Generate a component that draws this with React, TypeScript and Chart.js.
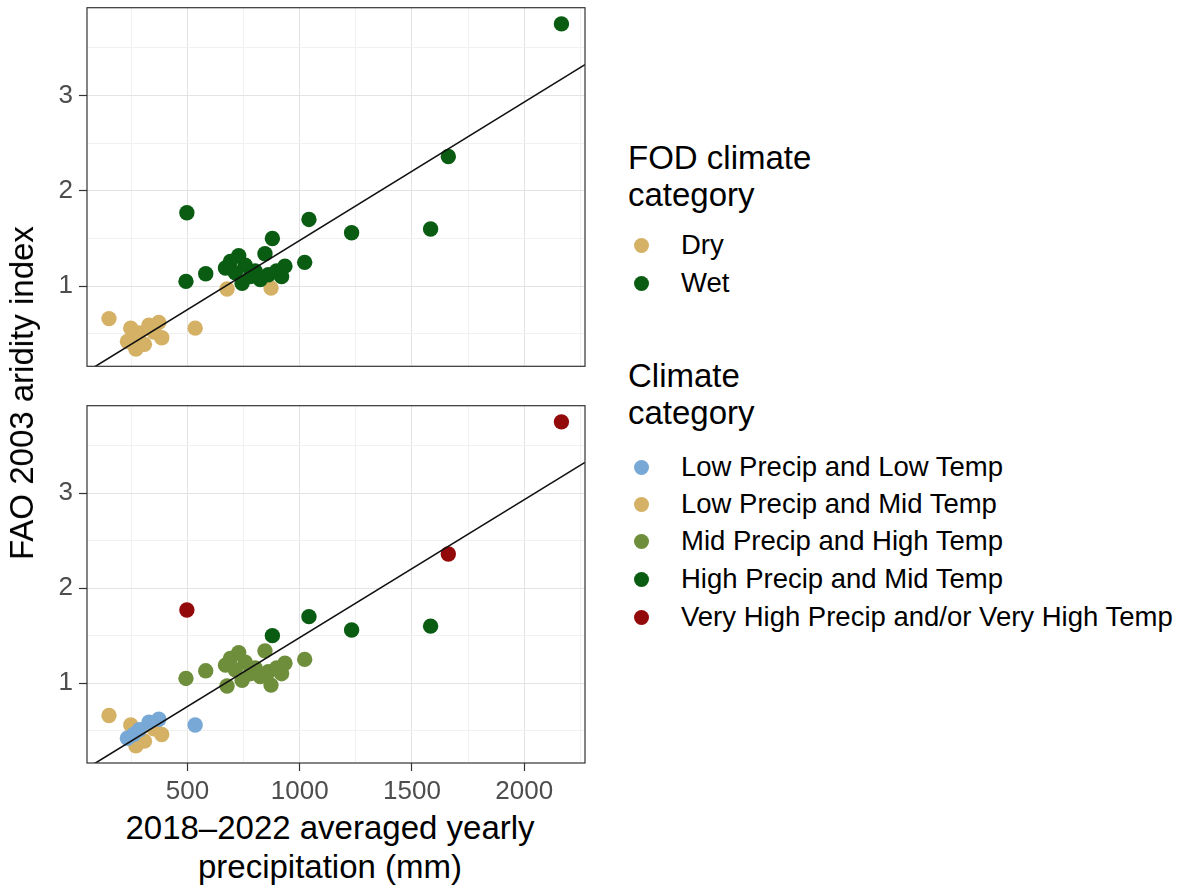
import React, { useEffect, useRef } from "react";
import { Chart, registerables } from "chart.js";

Chart.register(...registerables);

// Station-level observations: mean yearly precipitation (mm) vs FAO aridity index
const precipitation = [
  150, 247, 385, 270, 308, 350, 232, 285, 328, 372, 260, 534, 676, 872,
  493, 581, 669, 691, 728, 757, 713, 743, 801, 824, 860, 897, 934, 919, 780,
  845, 1022, 878, 1041, 1231, 1583, 497, 1662, 2166,
];
const aridity = [
  0.66, 0.56, 0.46, 0.34, 0.39, 0.52, 0.42, 0.51, 0.59, 0.62, 0.46, 0.56, 0.97, 0.98,
  1.05, 1.13, 1.19, 1.26, 1.32, 1.22, 1.14, 1.03, 1.16, 1.07, 1.12, 1.16, 1.21, 1.10, 1.10,
  1.34, 1.25, 1.50, 1.70, 1.56, 1.60, 1.77, 2.36, 3.75,
];
const fodCategory = [
  "Dry", "Dry", "Dry", "Dry", "Dry", "Dry", "Dry", "Dry", "Dry", "Dry", "Dry", "Dry", "Dry", "Dry",
  "Wet", "Wet", "Wet", "Wet", "Wet", "Wet", "Wet", "Wet", "Wet", "Wet", "Wet", "Wet", "Wet", "Wet", "Wet",
  "Wet", "Wet", "Wet", "Wet", "Wet", "Wet", "Wet", "Wet", "Wet",
];
const climateCategory = [
  "LPMT", "LPMT", "LPMT", "LPMT", "LPMT", "LPMT", "LPLT", "LPLT", "LPLT", "LPLT", "LPLT", "LPLT", "MPHT", "MPHT",
  "MPHT", "MPHT", "MPHT", "MPHT", "MPHT", "MPHT", "MPHT", "MPHT", "MPHT", "MPHT", "MPHT", "MPHT", "MPHT", "MPHT", "MPHT",
  "MPHT", "MPHT", "HPMT", "HPMT", "HPMT", "HPMT", "VH", "VH", "VH",
];

const FOD_LEVELS = ["Dry", "Wet"];
const FOD_LABELS = ["Dry", "Wet"];
const FOD_COLORS = ["#D4B165", "#0A5C12"];

const CLIMATE_LEVELS = ["LPLT", "LPMT", "MPHT", "HPMT", "VH"];
const CLIMATE_LABELS = [
  "Low Precip and Low Temp",
  "Low Precip and Mid Temp",
  "Mid Precip and High Temp",
  "High Precip and Mid Temp",
  "Very High Precip and/or Very High Temp",
];
const CLIMATE_COLORS = ["#78A9D6", "#D4B165", "#6E8E3C", "#0A5C12", "#930A0A"];

const X_MAJOR = [500, 1000, 1500, 2000];
const X_MINOR = [250, 750, 1250, 1750, 2250];
const Y_MAJOR = [1, 2, 3];
const Y_MINOR = [0.5, 1.5, 2.5, 3.5];
const X_RANGE = [52, 2271];
const Y_RANGE = [0.16, 3.92];

// Linear fit of aridity index on precipitation
const FIT_INTERCEPT = 0.03;
const FIT_SLOPE = 0.00145;

const FONT = "'Liberation Sans', Arial, Helvetica, sans-serif";

const panelBorder = {
  id: "panelBorder",
  afterDraw(chart: any) {
    const { ctx, chartArea } = chart;
    ctx.save();
    ctx.strokeStyle = "#333333";
    ctx.lineWidth = 1.2;
    ctx.strokeRect(chartArea.left, chartArea.top, chartArea.right - chartArea.left, chartArea.bottom - chartArea.top);
    ctx.restore();
  },
};

function tickList(major: number[], minor: number[]) {
  return [...major, ...minor].sort((a, b) => a - b).map((v) => ({ value: v }));
}

function Panel({ levels, colors, showX, height }: { levels: string[]; colors: string[]; showX: boolean; height: number }) {
  const ref = useRef<HTMLCanvasElement | null>(null);
  useEffect(() => {
    const canvas = ref.current;
    if (!canvas) return;
    const source = levels === FOD_LEVELS ? fodCategory : climateCategory;
    const pointColors = source.map((c) => colors[levels.indexOf(c)]);
    const points = precipitation.map((x, i) => ({ x, y: aridity[i] }));
    const fit = X_RANGE.map((x) => ({ x, y: FIT_INTERCEPT + FIT_SLOPE * x }));

    const gridColor = (major: number[]) => (ctx: any) =>
      ctx.tick && major.includes(ctx.tick.value) ? "#e3e3e3" : "#f1f1f1";
    const tickColor = (major: number[]) => (ctx: any) =>
      ctx.tick && major.includes(ctx.tick.value) ? "#333333" : "rgba(0,0,0,0)";

    const chart = new Chart(canvas, {
      type: "scatter",
      data: {
        datasets: [
          {
            type: "line",
            data: fit,
            borderColor: "#111111",
            borderWidth: 1.6,
            pointRadius: 0,
            fill: false,
          } as any,
          {
            data: points,
            pointRadius: 7.7,
            pointHoverRadius: 7.7,
            pointBorderWidth: 0,
            pointBackgroundColor: pointColors,
            backgroundColor: pointColors,
            borderWidth: 0,
          },
        ],
      },
      options: {
        animation: false,
        responsive: false,
        events: [],
        layout: { padding: { top: 5, right: 15, bottom: showX ? 0 : 6, left: 0 } },
        plugins: { legend: { display: false }, tooltip: { enabled: false } },
        scales: {
          x: {
            type: "linear",
            min: X_RANGE[0],
            max: X_RANGE[1],
            afterBuildTicks: (scale: any) => {
              scale.ticks = tickList(X_MAJOR, X_MINOR);
            },
            afterFit: (scale: any) => {
              scale.height = showX ? 45 : 0;
              scale.paddingLeft = 0;
              scale.paddingRight = 0;
            },
            border: { display: false },
            grid: {
              color: gridColor(X_MAJOR),
              lineWidth: 1,
              drawTicks: showX,
              tickLength: 8,
              tickColor: tickColor(X_MAJOR),
              tickWidth: 1.2,
            },
            ticks: {
              display: showX,
              autoSkip: false,
              maxRotation: 0,
              padding: 5,
              color: "#4d4d4d",
              font: { family: FONT, size: 26 },
              callback: (v: any) => (X_MAJOR.includes(Number(v)) ? String(v) : ""),
            },
          },
          y: {
            type: "linear",
            min: Y_RANGE[0],
            max: Y_RANGE[1],
            afterBuildTicks: (scale: any) => {
              scale.ticks = tickList(Y_MAJOR, Y_MINOR);
            },
            afterFit: (scale: any) => {
              scale.width = 87;
              scale.paddingTop = 0;
              scale.paddingBottom = 0;
            },
            border: { display: false },
            grid: {
              color: gridColor(Y_MAJOR),
              lineWidth: 1,
              tickLength: 8,
              tickColor: tickColor(Y_MAJOR),
              tickWidth: 1.2,
            },
            ticks: {
              autoSkip: false,
              padding: 6,
              color: "#4d4d4d",
              font: { family: FONT, size: 26 },
              callback: (v: any) => (Y_MAJOR.includes(Number(v)) ? String(v) : ""),
            },
          },
        },
      },
      plugins: [panelBorder],
    });
    return () => chart.destroy();
  }, [levels, colors, showX]);
  return <canvas ref={ref} width={600} height={height} style={{ width: 600, height, display: "block" }} />;
}

// Legend rows are placed by their vertical centres
function Legend({ title, titleY, labels, colors, rowY }: { title: string[]; titleY: number[]; labels: string[]; colors: string[]; rowY: number[] }) {
  const line = (key: string, y: number, left: number, size: number, content: React.ReactNode) => (
    <div
      key={key}
      style={{
        position: "absolute",
        left,
        top: y,
        transform: "translateY(-50%)",
        fontFamily: FONT,
        fontSize: size,
        lineHeight: 1.15,
        whiteSpace: "nowrap",
        color: "#000",
      }}
    >
      {content}
    </div>
  );
  return (
    <>
      {title.map((t, i) => line("t" + i, titleY[i], 628, 33, t))}
      {labels.map((l, i) => (
        <React.Fragment key={l}>
          <div
            style={{
              position: "absolute",
              left: 641 - 7.5,
              top: rowY[i] - 7.5,
              width: 15,
              height: 15,
              borderRadius: "50%",
              background: colors[i],
            }}
          />
          {line("l" + i, rowY[i], 681, 27.5, l)}
        </React.Fragment>
      ))}
    </>
  );
}

export default function App() {
  return (
    <div style={{ position: "absolute", left: 0, top: 0, width: 1195, height: 888, background: "#fff", overflow: "hidden" }}>
      <div style={{ position: "absolute", left: 0, top: 0 }}>
        <Panel levels={FOD_LEVELS} colors={FOD_COLORS} showX={false} height={374} />
      </div>
      <div style={{ position: "absolute", left: 0, top: 398 }}>
        <Panel levels={CLIMATE_LEVELS} colors={CLIMATE_COLORS} showX={true} height={410} />
      </div>
      <div
        style={{
          position: "absolute",
          left: 22,
          top: 393,
          transform: "translate(-50%, -50%) rotate(-90deg)",
          whiteSpace: "nowrap",
          fontFamily: FONT,
          fontSize: 33,
          color: "#000",
        }}
      >
        FAO 2003 aridity index
      </div>
      <div
        style={{
          position: "absolute",
          left: 330,
          top: 808,
          transform: "translateX(-50%)",
          whiteSpace: "nowrap",
          textAlign: "center",
          fontFamily: FONT,
          fontSize: 33,
          lineHeight: "39px",
          color: "#000",
        }}
      >
        <div>2018–2022 averaged yearly</div>
        <div>precipitation (mm)</div>
      </div>
      <Legend
        title={["FOD climate", "category"]}
        titleY={[158, 195]}
        labels={FOD_LABELS}
        colors={FOD_COLORS}
        rowY={[245, 283]}
      />
      <Legend
        title={["Climate", "category"]}
        titleY={[376, 413]}
        labels={CLIMATE_LABELS}
        colors={CLIMATE_COLORS}
        rowY={[467, 504, 541, 579, 617]}
      />
    </div>
  );
}
